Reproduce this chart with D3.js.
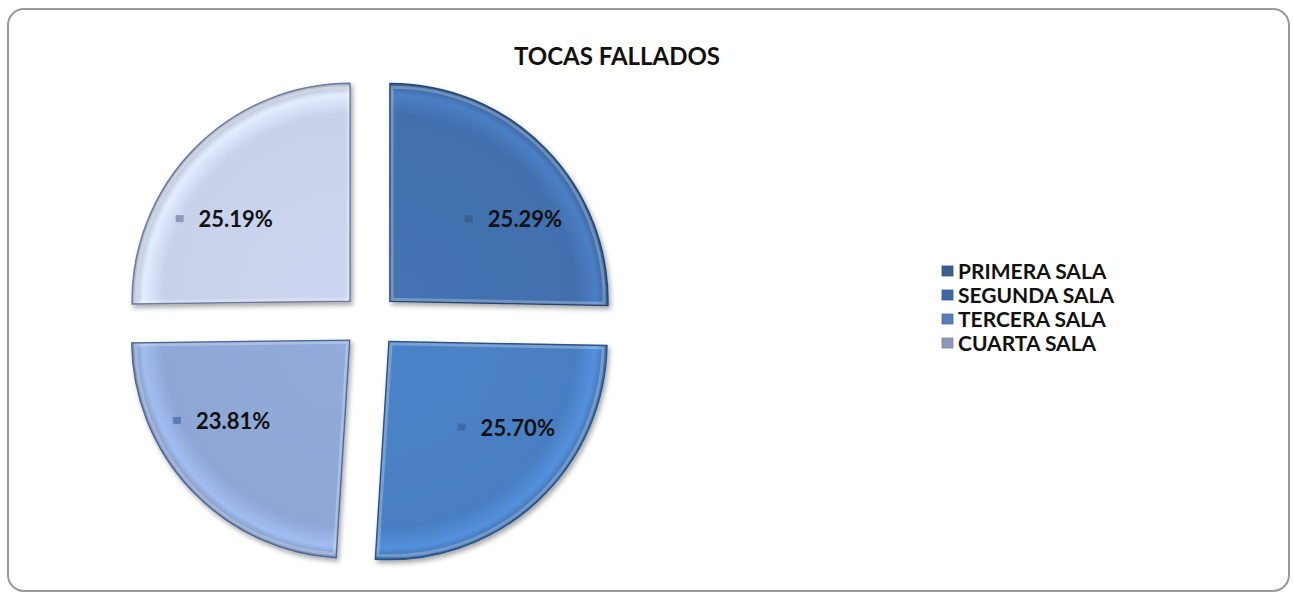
<!DOCTYPE html>
<html><head><meta charset="utf-8">
<script src="https://cdn.jsdelivr.net/npm/d3@7"></script>
<style>html,body{margin:0;padding:0;background:#fff;}svg{display:block;}</style>
</head><body>
<svg id="chart" width="1293" height="596"></svg>
<script>
const categories = ["PRIMERA SALA", "SEGUNDA SALA", "TERCERA SALA", "CUARTA SALA"];
const values = [25.29, 25.70, 23.81, 25.19];
const labels = ["25.29%", "25.70%", "23.81%", "25.19%"];
const title = "TOCAS FALLADOS";
const fills = ["#4270ae", "#4a7fc2", "#8ea7d5", "#c7d1ea"];
const strokes = ["#27476f", "#2c5283", "#4d6796", "#6f7b9c"];
const keyColors = ["#3b5e92", "#3f69a6", "#5a7cb8", "#8e9abd"];

const svg = d3.select("#chart");
const font = "Lato, 'Open Sans', sans-serif";

const defs = svg.append("defs");
const sh = defs.append("filter").attr("id","shadow").attr("x","-20%").attr("y","-20%").attr("width","140%").attr("height","140%");
sh.append("feDropShadow").attr("dx",2).attr("dy",3).attr("stdDeviation",2.5).attr("flood-color","#000").attr("flood-opacity",0.35);

fills.forEach((c,i)=>{
  const g = defs.append("radialGradient").attr("id","g"+i).attr("gradientUnits","userSpaceOnUse")
    .attr("cx",0).attr("cy",0).attr("r",220);
  g.append("stop").attr("offset","0%").attr("stop-color",d3.color(c).brighter(0.08));
  g.append("stop").attr("offset","85%").attr("stop-color",c);
  g.append("stop").attr("offset","94%").attr("stop-color",d3.color(c).brighter(0.35));
  g.append("stop").attr("offset","100%").attr("stop-color",d3.color(c).darker(0.6));
});

// frame
svg.append("rect").attr("x",8).attr("y",9).attr("width",1281).attr("height",582)
  .attr("rx",16).attr("ry",16).attr("fill","#fff").attr("stroke","#9a9a9a").attr("stroke-width",2);

svg.append("text").attr("x",617).attr("y",65).attr("text-anchor","middle")
  .attr("font-family",font).attr("font-weight",700).attr("font-size",24).attr("fill","#111")
  .text(title);

const cx = 370, cy = 321, R = 218, explode = 28;
const pie = d3.pie().sort(null).startAngle(0).endAngle(2*Math.PI).value(d=>d);
const arcs = pie(values);
const arc = d3.arc().innerRadius(0).outerRadius(R);

const pg = svg.append("g").attr("transform",`translate(${cx},${cy})`);
const sl = pg.selectAll("g.slice").data(arcs).join("g").attr("class","slice")
  .attr("transform",d=>{const m=(d.startAngle+d.endAngle)/2;return `translate(${Math.sin(m)*explode},${-Math.cos(m)*explode})`;});
sl.append("path").attr("d",arc).attr("fill",(d,i)=>`url(#g${i})`)
  .attr("stroke",(d,i)=>strokes[i]).attr("stroke-width",1.5).attr("filter","url(#shadow)");
// inner bevel highlight
const arcIn = d3.arc().innerRadius(0).outerRadius(R-6);
sl.append("path").attr("d",arcIn).attr("fill","none")
  .attr("stroke","#fff").attr("stroke-opacity",0.25).attr("stroke-width",3)
  .attr("transform",(d)=>{const m=(d.startAngle+d.endAngle)/2;return `translate(${Math.sin(m)*3},${-Math.cos(m)*3})`;});

// labels (elliptical placement relative to exploded slice)
const lab = sl.append("g")
  .attr("transform",d=>{const m=(d.startAngle+d.endAngle)/2;return `translate(${Math.sin(m)*175},${-Math.cos(m)*117})`;});
lab.append("rect").attr("x",-50).attr("y",-4).attr("width",8).attr("height",7).attr("fill",(d,i)=>keyColors[i]);
lab.append("text").attr("x",-27).attr("y",8).attr("font-family",font).attr("font-weight",700)
  .attr("font-size",22).attr("fill","#111").text((d,i)=>labels[i]);

// legend
const lg = svg.append("g").attr("transform","translate(942,271)");
const items = lg.selectAll("g").data(categories).join("g").attr("transform",(d,i)=>`translate(0,${i*24})`);
items.append("rect").attr("x",0).attr("y",-5).attr("width",11).attr("height",10).attr("fill",(d,i)=>keyColors[i])
  .attr("stroke",(d,i)=>d3.color(keyColors[i]).darker(0.4)).attr("stroke-width",0.8);
items.append("text").attr("x",16).attr("y",8).attr("font-family",font).attr("font-weight",700)
  .attr("font-size",21).attr("fill","#111").text(d=>d);
</script>
</body></html>
